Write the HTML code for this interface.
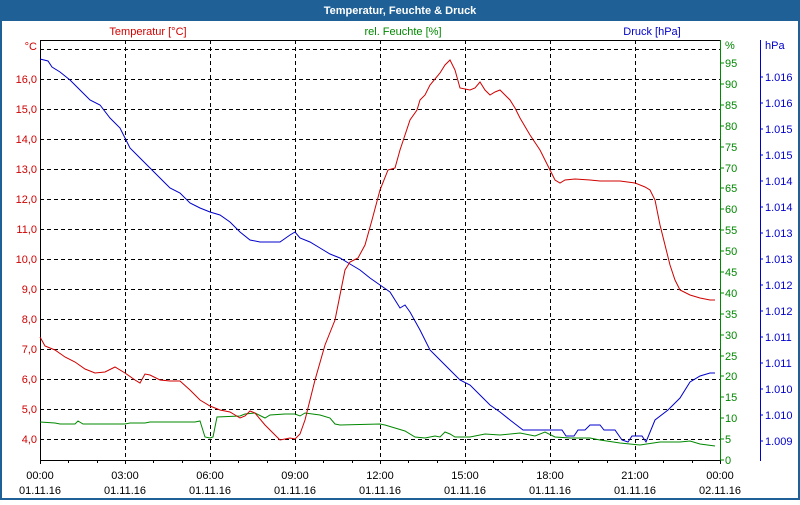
<!DOCTYPE html>
<html><head><meta charset="utf-8"><style>
body{margin:0;width:800px;height:500px;overflow:hidden;background:#fff;font-family:"Liberation Sans",sans-serif}
</style></head><body>
<svg width="800" height="500" xmlns="http://www.w3.org/2000/svg" font-family="Liberation Sans, sans-serif" font-size="11">
<rect x="0" y="0" width="800" height="500" fill="#1f6096"/>
<rect x="2" y="21" width="796" height="477" fill="#fff"/>
<text x="400" y="14" fill="#fff" font-weight="bold" text-anchor="middle" font-size="11">Temperatur, Feuchte &amp; Druck</text>
<g stroke="#000" stroke-dasharray="4,3" stroke-width="1">
<line x1="40" y1="49.5" x2="720" y2="49.5"/><line x1="40" y1="79.5" x2="720" y2="79.5"/><line x1="40" y1="109.5" x2="720" y2="109.5"/><line x1="40" y1="139.5" x2="720" y2="139.5"/><line x1="40" y1="169.5" x2="720" y2="169.5"/><line x1="40" y1="199.5" x2="720" y2="199.5"/><line x1="40" y1="229.5" x2="720" y2="229.5"/><line x1="40" y1="259.5" x2="720" y2="259.5"/><line x1="40" y1="289.5" x2="720" y2="289.5"/><line x1="40" y1="319.5" x2="720" y2="319.5"/><line x1="40" y1="349.5" x2="720" y2="349.5"/><line x1="40" y1="379.5" x2="720" y2="379.5"/><line x1="40" y1="409.5" x2="720" y2="409.5"/><line x1="40" y1="439.5" x2="720" y2="439.5"/>
<line x1="125.5" y1="40" x2="125.5" y2="460"/><line x1="210.5" y1="40" x2="210.5" y2="460"/><line x1="295.5" y1="40" x2="295.5" y2="460"/><line x1="380.5" y1="40" x2="380.5" y2="460"/><line x1="465.5" y1="40" x2="465.5" y2="460"/><line x1="550.5" y1="40" x2="550.5" y2="460"/><line x1="635.5" y1="40" x2="635.5" y2="460"/>
</g>
<line x1="40" y1="40.5" x2="720" y2="40.5" stroke="#000"/>
<line x1="40.5" y1="40" x2="40.5" y2="460" stroke="#000"/>
<line x1="40" y1="460.5" x2="720" y2="460.5" stroke="#000"/>
<line x1="720.5" y1="40" x2="720.5" y2="461" stroke="#080"/>
<line x1="760.5" y1="40" x2="760.5" y2="461" stroke="#00c"/>
<g stroke="#000">
<line x1="40.5" y1="460" x2="40.5" y2="464"/><line x1="68.5" y1="460" x2="68.5" y2="463"/><line x1="97.5" y1="460" x2="97.5" y2="463"/><line x1="125.5" y1="460" x2="125.5" y2="464"/><line x1="153.5" y1="460" x2="153.5" y2="463"/><line x1="182.5" y1="460" x2="182.5" y2="463"/><line x1="210.5" y1="460" x2="210.5" y2="464"/><line x1="238.5" y1="460" x2="238.5" y2="463"/><line x1="267.5" y1="460" x2="267.5" y2="463"/><line x1="295.5" y1="460" x2="295.5" y2="464"/><line x1="323.5" y1="460" x2="323.5" y2="463"/><line x1="352.5" y1="460" x2="352.5" y2="463"/><line x1="380.5" y1="460" x2="380.5" y2="464"/><line x1="408.5" y1="460" x2="408.5" y2="463"/><line x1="437.5" y1="460" x2="437.5" y2="463"/><line x1="465.5" y1="460" x2="465.5" y2="464"/><line x1="493.5" y1="460" x2="493.5" y2="463"/><line x1="522.5" y1="460" x2="522.5" y2="463"/><line x1="550.5" y1="460" x2="550.5" y2="464"/><line x1="578.5" y1="460" x2="578.5" y2="463"/><line x1="607.5" y1="460" x2="607.5" y2="463"/><line x1="635.5" y1="460" x2="635.5" y2="464"/><line x1="663.5" y1="460" x2="663.5" y2="463"/><line x1="692.5" y1="460" x2="692.5" y2="463"/><line x1="720.5" y1="460" x2="720.5" y2="464"/>
</g>
<g text-anchor="middle" fill="#000">
<text x="40" y="479">00:00</text><text x="40" y="494">01.11.16</text>
<text x="125" y="479">03:00</text><text x="125" y="494">01.11.16</text>
<text x="210" y="479">06:00</text><text x="210" y="494">01.11.16</text>
<text x="295" y="479">09:00</text><text x="295" y="494">01.11.16</text>
<text x="380" y="479">12:00</text><text x="380" y="494">01.11.16</text>
<text x="465" y="479">15:00</text><text x="465" y="494">01.11.16</text>
<text x="550" y="479">18:00</text><text x="550" y="494">01.11.16</text>
<text x="635" y="479">21:00</text><text x="635" y="494">01.11.16</text>
<text x="720" y="479">00:00</text><text x="720" y="494">02.11.16</text>
</g>
<g fill="#d00000" text-anchor="end">
<text x="37" y="50">°C</text><text x="37" y="83">16,0</text><text x="37" y="113">15,0</text><text x="37" y="143">14,0</text><text x="37" y="173">13,0</text><text x="37" y="203">12,0</text><text x="37" y="233">11,0</text><text x="37" y="263">10,0</text><text x="37" y="293">9,0</text><text x="37" y="323">8,0</text><text x="37" y="353">7,0</text><text x="37" y="383">6,0</text><text x="37" y="413">5,0</text><text x="37" y="443">4,0</text>
</g>
<text x="148" y="35" fill="#d00000" text-anchor="middle">Temperatur [°C]</text>
<text x="403" y="35" fill="#080" text-anchor="middle">rel. Feuchte [%]</text>
<text x="652" y="35" fill="#00c" text-anchor="middle">Druck [hPa]</text>
<g fill="#080">
<text x="725" y="49">%</text>
<text x="725" y="67">95</text><text x="725" y="88">90</text><text x="725" y="109">85</text><text x="725" y="130">80</text><text x="725" y="151">75</text><text x="725" y="172">70</text><text x="725" y="192">65</text><text x="725" y="213">60</text><text x="725" y="234">55</text><text x="725" y="255">50</text><text x="725" y="276">45</text><text x="725" y="297">40</text><text x="725" y="318">35</text><text x="725" y="339">30</text><text x="725" y="360">25</text><text x="725" y="380">20</text><text x="725" y="401">15</text><text x="725" y="422">10</text><text x="725" y="443">5</text><text x="725" y="464">0</text>
</g>
<g stroke="#080"><path d="M720,63h4M720,84h4M720,105h4M720,126h4M720,147h4M720,168h4M720,188h4M720,209h4M720,230h4M720,251h4M720,272h4M720,293h4M720,314h4M720,335h4M720,356h4M720,376h4M720,397h4M720,418h4M720,439h4M720,460h4"/></g>
<g fill="#00c">
<text x="765" y="49">hPa</text>
<text x="765" y="81">1.016</text><text x="765" y="107">1.016</text><text x="765" y="133">1.015</text><text x="765" y="159">1.015</text><text x="765" y="185">1.014</text><text x="765" y="211">1.014</text><text x="765" y="237">1.013</text><text x="765" y="263">1.013</text><text x="765" y="289">1.012</text><text x="765" y="315">1.012</text><text x="765" y="341">1.011</text><text x="765" y="367">1.011</text><text x="765" y="393">1.010</text><text x="765" y="419">1.010</text><text x="765" y="445">1.009</text>
</g>
<g stroke="#00c"><path d="M760,77h3M760,103h3M760,129h3M760,155h3M760,181h3M760,207h3M760,233h3M760,259h3M760,285h3M760,311h3M760,337h3M760,363h3M760,389h3M760,415h3M760,441h3"/></g>
<polyline fill="none" stroke="#080" stroke-width="1" points="40,422 55,423 60,424 75,424 78,421 83,424 125,424 130,423 145,423 150,422 195,422 200,421 205,437 210,438 213,437 217,417 240,416 245,414 255,413 265,418 270,415 285,414 295,414 300,416 305,413 320,415 330,418 335,424 340,425 380,424 385,425 395,428 405,431 415,437 425,438 435,436 440,437 445,432 450,434 455,437 470,437 485,434 500,435 520,433 535,436 545,432 555,437 570,438 590,438 600,440 620,443 640,445 660,442 680,442 690,441 700,444 715,446"/>
<polyline fill="none" stroke="#00c" stroke-width="1" points="40,59 48,61 52,67 60,72 70,80 80,90 90,100 100,105 110,118 120,128 125,138 130,148 140,158 150,168 160,178 165,183 170,188 180,193 190,203 200,208 210,212 220,215 230,222 240,232 250,240 260,242 280,242 290,235 295,232 300,238 310,242 320,248 330,254 340,258 350,264 360,270 370,278 380,285 390,292 400,308 405,305 410,312 420,330 430,350 440,360 450,370 460,380 470,385 480,395 490,405 500,412 510,420 523,430 562,430 566,436 574,436 578,430 585,430 590,425 600,425 604,430 615,430 622,440 628,442 632,436 642,436 646,442 655,420 668,410 680,398 690,382 700,376 710,373 715,373"/>
<polyline fill="none" stroke="#d00000" stroke-width="1" points="40,337 45,346 55,350 65,357 75,362 85,369 95,373 105,372 115,367 125,373 135,380 140,383 145,374 150,375 160,380 170,381 180,381 190,390 200,400 210,406 220,410 230,412 240,418 245,416 250,411 255,413 265,425 275,435 280,440 290,438 295,439 300,434 305,420 315,380 325,345 335,320 340,295 345,270 350,262 358,258 365,245 372,220 380,190 388,170 395,168 400,150 405,135 410,120 417,110 420,100 425,95 430,85 440,73 445,65 450,60 455,70 460,88 470,90 475,88 480,82 485,90 490,95 495,92 500,90 505,95 510,100 515,108 520,118 530,135 540,150 550,170 555,180 560,183 565,180 575,179 590,180 600,181 620,181 635,183 645,187 650,190 655,200 660,225 665,245 670,265 675,280 680,290 690,295 700,298 710,300 715,300"/>
</svg>
</body></html>
